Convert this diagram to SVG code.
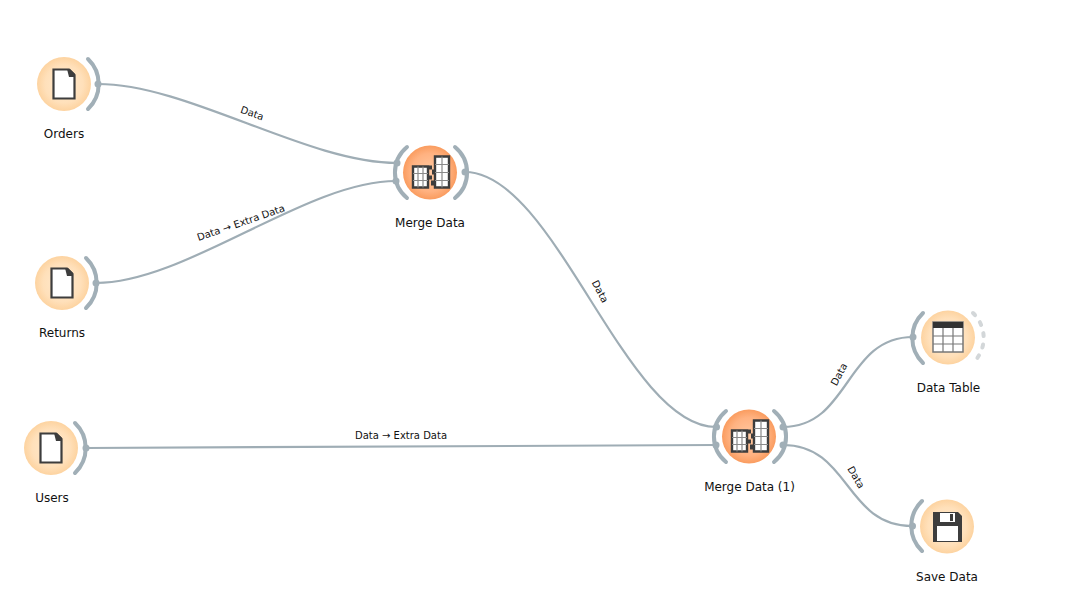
<svg xmlns="http://www.w3.org/2000/svg" width="1076" height="612" viewBox="0 0 1076 612">
<style>
text{font-family:"DejaVu Sans","Liberation Sans",sans-serif;fill:#111}
.t{font-size:12px;text-anchor:middle}
.l{font-size:10px;text-anchor:middle}
.c{fill:none;stroke:#9fadb5;stroke-width:2.2}
.a{fill:none;stroke:#a1afb7;stroke-width:4;stroke-linecap:round}
.d{fill:#a1afb7}
.g{fill:none;stroke:#d3d7d9;stroke-width:4;stroke-linecap:round;stroke-dasharray:3 8.500}
</style>
<defs>
<radialGradient id="lt"><stop offset="0" stop-color="#ffeacf"/><stop offset="0.7" stop-color="#ffe0ba"/><stop offset="1" stop-color="#fdd3a0"/></radialGradient>
<radialGradient id="dk"><stop offset="0" stop-color="#ffc9a2"/><stop offset="0.7" stop-color="#ffb281"/><stop offset="1" stop-color="#fa9c5f"/></radialGradient>
<g id="out"><path class="a" d="M24,-25A34.6,34.6 0 0 1 24,25"/></g>
<g id="inp"><path class="a" d="M-24,-25A34.6,34.6 0 0 0 -24,25"/></g>
<g id="mout"><path class="a" d="M24,-25.500A33,33 0 0 1 24,25.500"/></g>
<g id="minp"><path class="a" d="M-23,-25.500A33,33 0 0 0 -23,25.500"/></g>
<g id="file"><path d="M-10.500,-14.500H5L10.500,-9V14.500H-10.500Z" fill="#fff" stroke="#3d3d3d" stroke-width="2.200"/><path d="M3,-15H6L11,-10V-7H5Z" fill="#3d3d3d"/></g>
<g id="merge">
<path d="M-17,-6H-2V15H-17ZM5,-16H19V15H5Z" fill="#fff" stroke="#3d3d3d" stroke-width="2.400"/>
<path d="M-12,-6V15M-7,-6V15M-17,1H-2M-17,8H-2M12,-16V15M5,-8H19M5,0H19M5,8H19" fill="none" stroke="#8a8a8a" stroke-width="1.200"/>
<path d="M-1,-7h3v4h-3zM2,-3h3v5h-3zM-1,3h3v4h-3zM1,8h3v5h-3z" fill="#3d3d3d"/>
</g>
</defs>
<g id="connectors">
<path class="c" d="M98,84C188,84 307,163 397,163"/>
<path class="c" d="M96,283C186,283 306,181 396,181"/>
<path class="c" d="M465,172C555,172 625,427 716,427"/>
<path class="c" d="M86,448L716,445"/>
<path class="c" d="M783,427C850,427 845,337 913,337"/>
<path class="c" d="M783,445C850,445 845,526 912,526"/>
<text class="l" transform="translate(251,116.500) rotate(19)">Data</text>
<text class="l" transform="translate(242,226) rotate(-19)">Data → Extra Data</text>
<text class="l" transform="translate(597,293) rotate(62)">Data</text>
<text class="l" x="401" y="439">Data → Extra Data</text>
<text class="l" transform="translate(842,376) rotate(-62)">Data</text>
<text class="l" transform="translate(853,479) rotate(60)">Data</text>
</g>
<g id="orders"><circle cx="64" cy="84" r="27" fill="url(#lt)"/><use href="#file" x="64" y="84"/><use href="#out" x="64" y="84"/><circle class="d" cx="98" cy="84" r="3.500"/><text class="t" x="64" y="138">Orders</text></g>
<g id="returns"><circle cx="62" cy="283" r="27" fill="url(#lt)"/><use href="#file" x="62" y="283"/><use href="#out" x="62" y="283"/><circle class="d" cx="96" cy="283" r="3.500"/><text class="t" x="62" y="337">Returns</text></g>
<g id="users"><circle cx="51" cy="448" r="27" fill="url(#lt)"/><use href="#file" x="51" y="448"/><use href="#out" x="51" y="448"/><circle class="d" cx="86" cy="448" r="3.500"/><text class="t" x="52" y="502">Users</text></g>
<g id="merge-data"><circle cx="430" cy="172.500" r="27" fill="url(#dk)"/><use href="#merge" x="430" y="172.500"/><use href="#minp" x="430" y="172.500"/><use href="#mout" x="431" y="172.500"/><circle class="d" cx="397" cy="163" r="3.500"/><circle class="d" cx="396" cy="181" r="3.500"/><circle class="d" cx="465" cy="172" r="3.500"/><text class="t" x="430" y="227">Merge Data</text></g>
<g id="merge-data-1"><circle cx="749" cy="436.500" r="27" fill="url(#dk)"/><use href="#merge" x="749" y="436.500"/><use href="#minp" x="749" y="436.500"/><use href="#mout" x="750" y="436.500"/><circle class="d" cx="716.500" cy="427" r="3.500"/><circle class="d" cx="716" cy="445" r="3.500"/><circle class="d" cx="783" cy="427" r="3.500"/><circle class="d" cx="783" cy="445" r="3.500"/><text class="t" x="749.500" y="491">Merge Data (1)</text></g>
<g id="data-table"><circle cx="948" cy="337.500" r="27" fill="url(#lt)"/><rect x="933" y="322" width="30" height="30" fill="#fff" stroke="#777" stroke-width="1.500"/><rect x="933" y="322" width="30" height="6" fill="#333"/><path d="M943,328V352M953,328V352M933,336H963M933,344H963" fill="none" stroke="#777" stroke-width="1.200"/><use href="#inp" x="947" y="338"/><path class="g" d="M973,313A34.600,34.600 0 0 1 973,363"/><circle class="d" cx="913" cy="337" r="3.500"/><text class="t" x="948.500" y="392">Data Table</text></g>
<g id="save-data"><circle cx="947" cy="526.500" r="27" fill="url(#lt)"/><path d="M933,512H958L962,516V542H933Z" fill="#3d3d3d"/><rect x="940" y="513" width="15" height="9" fill="#fff"/><rect x="950" y="514" width="3" height="7" fill="#3d3d3d"/><rect x="937" y="526" width="21" height="15" fill="#fff"/><use href="#inp" x="946" y="526"/><circle class="d" cx="912.500" cy="526" r="3.500"/><text class="t" x="947" y="581">Save Data</text></g>
</svg>
